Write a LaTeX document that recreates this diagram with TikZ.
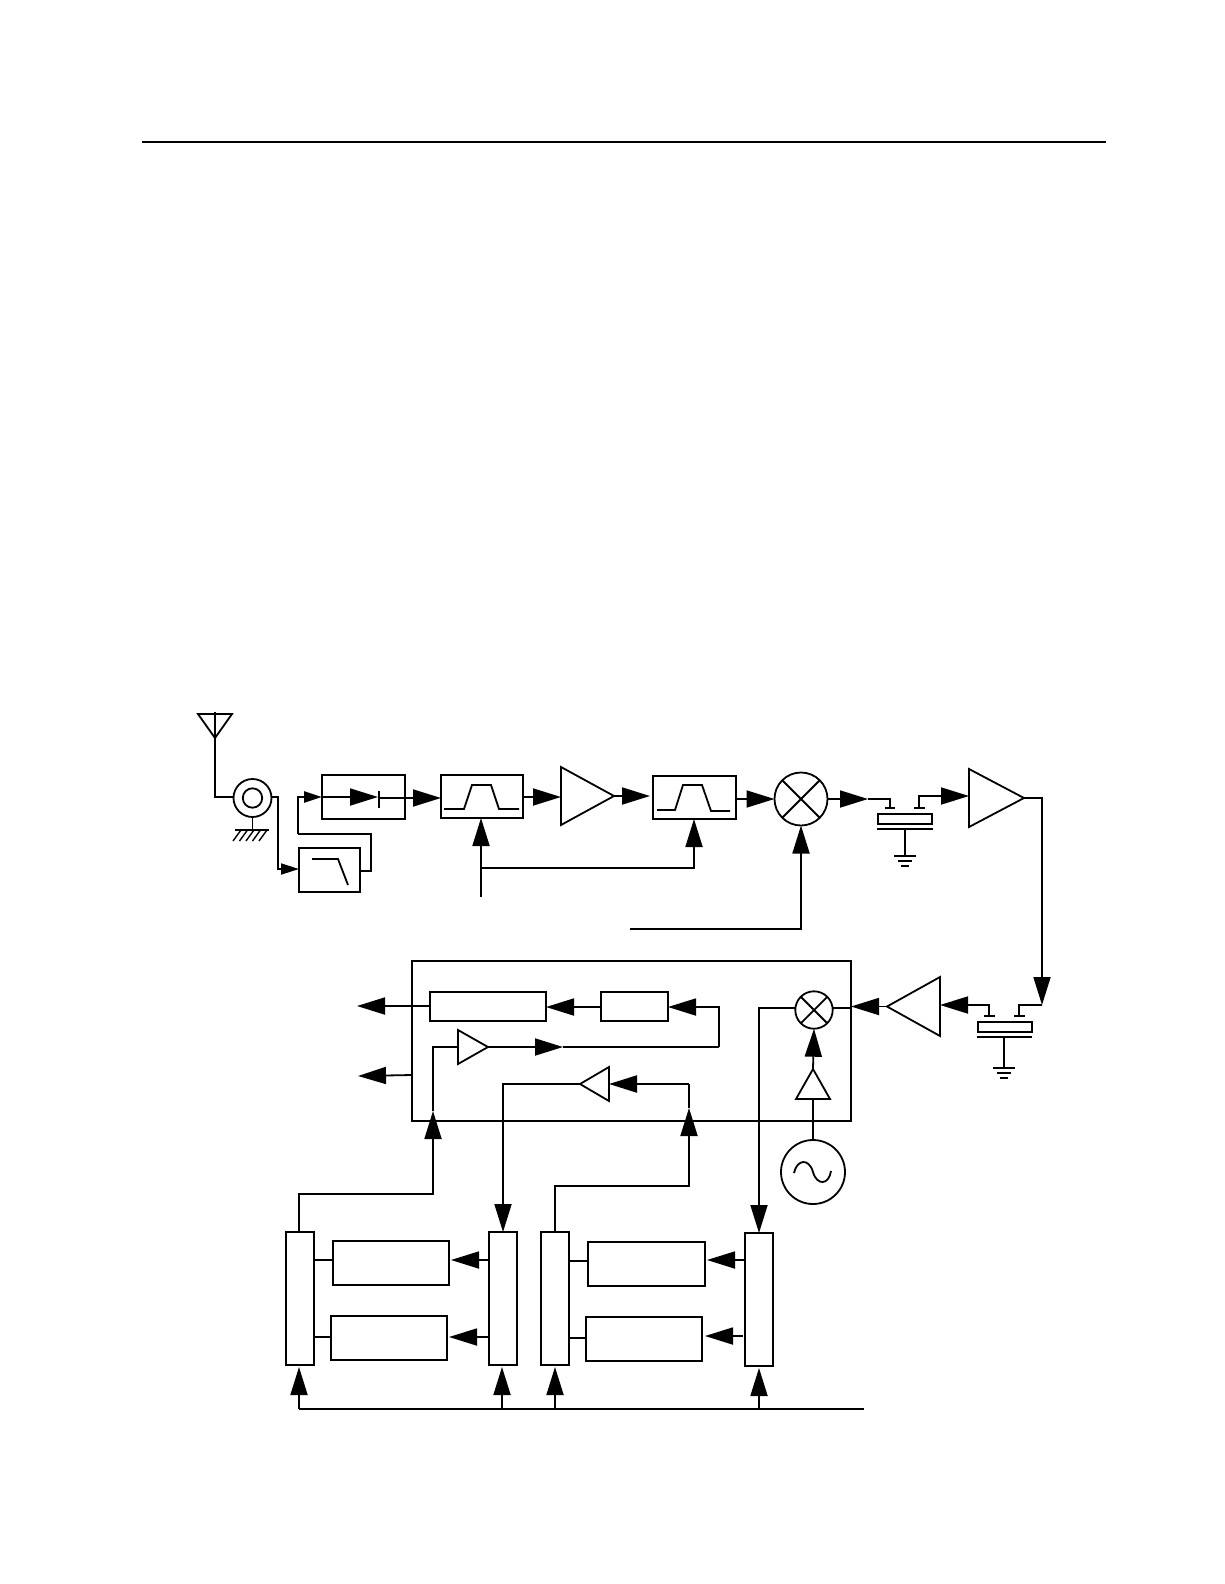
\documentclass[tikz,border=0pt]{standalone}
\usetikzlibrary{arrows.meta,calc}
\tikzset{
  wire/.style={line width=1.8pt,line join=miter},
  thickwire/.style={line width=2.4pt},
  arr/.style={wire,-{Triangle[length=28pt,width=17pt]}},
  arrs/.style={wire,-{Triangle[length=18pt,width=11pt]}},
  blockn/.style={draw,line width=1.8pt,rectangle,inner sep=0pt,outer sep=0pt},
  circn/.style={draw,line width=1.8pt,circle,inner sep=0pt,outer sep=0pt},
  frame/.style={rectangle,inner sep=0pt,outer sep=0pt},
}
\newcommand{\blk}[5]{\node[blockn,minimum width={(#4-#2)*1pt},minimum height={(#5-#3)*1pt}] (#1) at ({(#2+#4)/2},{(#3+#5)/2}) {};}
\newcommand{\circl}[4]{\node[circn,minimum size={2*#4*1pt}] (#1) at (#2,#3) {};}
\newcommand{\trifr}[5]{\node[frame,minimum width={(#4-#2)*1pt},minimum height={(#5-#3)*1pt}] (#1) at ({(#2+#4)/2},{(#3+#5)/2}) {};}
\newcommand{\triR}[5]{\trifr{#1}{#2}{#3}{#4}{#5}\draw[wire] (#1.north west) -- (#1.east) -- (#1.south west) -- cycle;}
\newcommand{\triL}[5]{\trifr{#1}{#2}{#3}{#4}{#5}\draw[wire] (#1.north east) -- (#1.west) -- (#1.south east) -- cycle;}
\newcommand{\triU}[5]{\trifr{#1}{#2}{#3}{#4}{#5}\draw[wire] (#1.south west) -- (#1.north) -- (#1.south east) -- cycle;}
\newcommand{\triD}[5]{\trifr{#1}{#2}{#3}{#4}{#5}\draw[wire] (#1.north west) -- (#1.south) -- (#1.north east) -- cycle;}
\newcommand{\gnd}[2]{\draw[wire] (#1-11,#2) -- (#1+11,#2) (#1-7,#2+5) -- (#1+7,#2+5) (#1-4,#2+10) -- (#1+4,#2+10);}
\begin{document}
\begin{tikzpicture}[x=1pt,y=-1pt]
\useasboundingbox (0,0) rectangle (1224,1584);
% top rule
\coordinate (ruleL) at (142,141.7);
\coordinate (ruleR) at (1106,141.7);
\draw[wire] (ruleL) -- (ruleR);

% --- front end ---
\triD{ant}{198}{714}{232}{738}
\circl{coax}{252.5}{798}{19}
\circl{coaxin}{252.5}{798}{9.7}
\coordinate (earth) at (252.5,830);
\blk{lim}{322}{775}{405}{819}
\blk{lp}{299}{848}{360}{892}
\blk{bpfa}{441}{775}{523}{818}
\blk{bpfb}{653}{776}{736}{819}
\triR{ampa}{561}{767}{614}{825}
\circl{mixa}{801}{799}{26.5}
\coordinate (diodetip) at (378,797);
\coordinate (ctlin) at (481,897);
\coordinate (ctlbr) at (481,868);
\coordinate (loin) at (630,929);

\draw[wire] (ant.north) ++(0,-2) -- (ant.south) |- (coax.west |- 0,797);
\draw[wire] (earth) -- (coax.south);
\draw[wire] (235,830) -- (269,830);
\foreach \h in {241,247.5,254,260.5,267}{\draw[line width=1.4pt] (\h,830) -- (\h-8,841);}
\draw[arrs] (coax.east |- 0,797) -- (278,797) |- (lp.west |- 0,869);
\draw[wire] (lp.east |- 0,871) -- (371,871) -- (371,834) -- (298,834);
\draw[arrs,line width=2.4pt] (298,834) |- (lim.west |- 0,797);
\draw[arr] (lim.west |- 0,797) -- (diodetip);
\draw[wire] (379,791) -- (379,808);
\draw[arr] (379,798) -- (bpfa.west |- 0,798);
\draw[wire] (444,809) -- (464,809) -- (472,785) -- (491,785) -- (499,809) -- (519,809);
\draw[wire] (312,859) -- (338,859) -- (348,885);
\draw[arr] (ctlin) -- (ctlin |- bpfa.south);
\draw[arr] (ctlbr) -| (bpfb.south -| 694,0);
\draw[arr] (bpfa.east |- 0,797) -- (ampa.west |- 0,797);
\draw[arr] (ampa.east) -- (650,796);
\draw[wire] (657,810) -- (675,810) -- (683,785) -- (702,785) -- (711,811) -- (730,811);
\draw[arr] (bpfb.east |- mixa) -- (mixa.west);
\draw[wire] (mixa.45) -- (mixa.225) (mixa.135) -- (mixa.-45);
\draw[arr] (loin) -| (mixa.south);

% --- first crystal filter ---
\blk{xa}{878}{814}{932}{824}
\coordinate (xaplate) at (905,829);
\draw[wire] (877,829) -- (933,829);
\draw[wire] (885,808) -- (895,808) (914,808) -- (925,808);
\coordinate (xain) at (890,799);
\draw[arr] (mixa.east) -- (868,799);
\draw[wire] (868,799) -- (xain) -- (890,808);
\draw[wire] (xaplate) -- (905,856);
\gnd{905}{856}
\triR{ampb}{969}{769}{1024}{827}
\draw[arr] (919,808) |- (ampb.west |- 0,796);

% --- second crystal filter ---
\blk{xb}{978}{1022}{1032}{1032}
\draw[wire] (977,1037) -- (1032,1037);
\draw[wire] (984,1016) -- (995,1016) (1014,1016) -- (1025,1016);
\coordinate (xbdrop) at (1042,1005);
\draw[arr] (ampb.east) -- (1042,798) -- (xbdrop);
\draw[wire] (xbdrop) -- (1019,1005) -- (1019,1016);
\draw[wire] (1004,1037) -- (1004,1068);
\gnd{1004}{1068}
\triL{ampc}{887}{977}{940}{1036}
\draw[arr] (989,1016) |- (ampc.east |- 0,1005);

% --- IF chip ---
\blk{chip}{412}{961}{851}{1121}
\draw[thickwire] (chip.north west) -- (chip.south west);
\blk{wide}{430}{992}{546}{1021}
\blk{small}{601}{992}{668}{1021}
\circl{mixb}{814}{1010}{18.7}
\draw[wire] (mixb.45) -- (mixb.225) (mixb.135) -- (mixb.-45);
\draw[arr] (ampc.west) -- (chip.east |- ampc.west);
\draw[wire] (chip.east |- 0,1008) -- (mixb.east |- 0,1008);
\triU{ampd}{796}{1069}{830}{1099}
\draw[arr] (ampd.north) -- (mixb.south);
\circl{osc}{813}{1172}{32}
\draw[wire] (ampd.south) -- (osc.north);
\draw[wire] (794,1173) .. controls (797,1159) and (809,1158) .. (813,1172) .. controls (817,1186) and (829,1185) .. (831,1171);
\coordinate (outa) at (357,1006);
\coordinate (outb) at (358,1076);
\draw[arr] (wide.west |- outa) -- (outa);
\draw[arr] (chip.west |- 0,1075) -- (outb);
\draw[arr] (small.west |- 0,1007) -- (wide.east |- 0,1007);
\triR{ampe}{458}{1030}{488}{1064}
\triL{ampf}{580}{1067}{609}{1101}
\coordinate (turnr) at (719,1047);
\coordinate (midtip) at (563,1047);
\coordinate (feedup) at (433,1111);
\coordinate (feedv) at (689,1108);

% --- SAW banks ---
\blk{cola}{286}{1232}{314}{1365}
\blk{colb}{489}{1232}{517}{1365}
\blk{colc}{541}{1232}{569}{1365}
\blk{cold}{745}{1233}{773}{1366}
\blk{boxa}{333}{1241}{449}{1285}
\blk{boxb}{331}{1316}{447}{1360}
\blk{boxc}{588}{1242}{705}{1286}
\blk{boxd}{586}{1317}{702}{1361}

\draw[arr] (ampe.east) -- (midtip);
\draw[wire] (midtip) -- (turnr);
\draw[arr] (turnr) -- (719,1007) -- (small.east |- 0,1007);
\draw[wire] (ampe.west) -- (433,1047) -- (feedup);
\draw[arr] (299,1232) -- (299,1194) -- (433,1194) -- (feedup);
\draw[wire] (feedv) -- (689,1084);
\draw[arr,line width=2.2pt] (689,1084) -- (ampf.east);
\draw[arr] (555,1232) -- (555,1186) -- (689,1186) -- (feedv);
\draw[arr] (ampf.west) -- (503,1084) -- (colb.north -| 503,0);
\draw[arr] (mixb.west |- 0,1008) -- (759,1008) -- (cold.north -| 759,0);

\draw[wire] (cola.east |- 0,1260) -- (boxa.west |- 0,1260);
\draw[wire] (cola.east |- 0,1337) -- (boxb.west |- 0,1337);
\draw[wire] (colc.east |- 0,1261) -- (boxc.west |- 0,1261);
\draw[wire] (colc.east |- 0,1338) -- (boxd.west |- 0,1338);
\draw[arr] (colb.west |- 0,1260) -- (451,1260);
\draw[arr] (colb.west |- 0,1337) -- (449,1337);
\draw[arr] (cold.west |- 0,1260) -- (707,1260);
\draw[arr] (743,1336) -- (705,1336);

\coordinate (busR) at (864,1409);
\coordinate (busL) at (299,1409);
\draw[wire] (busL) -- (busR);
\draw[arr] (busL) -- (299,1367);
\draw[arr] (502,1409) -- (502,1367);
\draw[arr] (555,1409) -- (555,1367);
\draw[arr] (759,1409) -- (759,1368);
\end{tikzpicture}
\end{document}
